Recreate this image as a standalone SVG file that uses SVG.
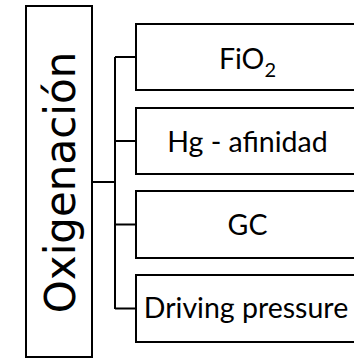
<svg xmlns="http://www.w3.org/2000/svg" width="354" height="360" viewBox="0 0 354 360">
<style>
.box{fill:#fff;stroke:#000;stroke-width:2}
.lbl{font-family:Lato,"Open Sans",sans-serif;font-size:28.5px;fill:#000;text-anchor:middle}
.main{font-family:"DejaVu Sans",sans-serif;font-size:42px;fill:#000;text-anchor:middle}
.conn{fill:none;stroke:#000;stroke-width:2}
</style>
<rect width="354" height="360" fill="#fff"/>
<g id="connectors">
<path class="conn" d="M92,182 H115 M115,57 V309 M115,57 H136 M115,141 H136 M115,224.5 H136 M115,308.5 H136"/>
</g>
<g id="oxigenacion">
<rect class="box" x="26" y="6" width="66" height="351"/>
<text class="main" transform="translate(75,182.5) rotate(-90)">Oxigenación</text>
</g>
<g id="fio2">
<rect class="box" x="136" y="24" width="230" height="66"/>
<text class="lbl" x="247.5" y="69">FiO<tspan font-size="20" dy="8">2</tspan></text>
</g>
<g id="hg">
<rect class="box" x="136" y="108" width="230" height="66"/>
<text class="lbl" x="247.5" y="152">Hg - afinidad</text>
</g>
<g id="gc">
<rect class="box" x="136" y="191" width="230" height="67"/>
<text class="lbl" x="247.5" y="235">GC</text>
</g>
<g id="driving">
<rect class="box" x="136" y="275" width="230" height="67"/>
<text class="lbl" x="246" y="318">Driving pressure</text>
</g>
</svg>
